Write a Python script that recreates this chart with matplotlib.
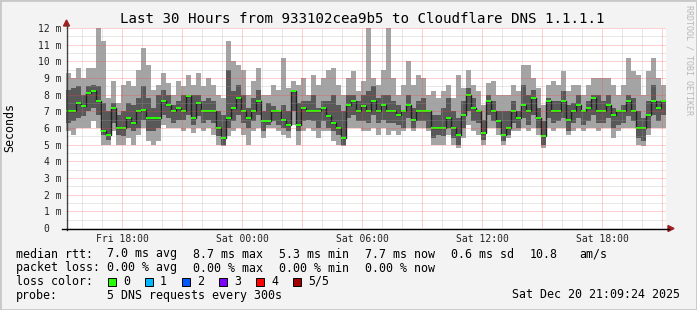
"""SmokePing style latency chart: 30 hours of DNS round trip times."""

import matplotlib

matplotlib.use("Agg", force=True)

import matplotlib.pyplot as plt
import numpy as np
from matplotlib.lines import Line2D
from matplotlib.patches import Polygon, Rectangle

W, H = 697, 310
MONO = "DejaVu Sans Mono"

# time axis: hours since Fri 00:00, one column every 15 minutes
start_hour = 15.18
step_hours = 0.25
span_hours = 30

# five DNS samples per step, sorted (ms)
ping_max = [
	9.3, 9.0, 9.6, 9.0, 9.6, 9.6, 12.0, 11.2, 7.8, 8.8, 7.5, 8.6, 8.8, 8.5, 9.5, 10.8, 9.8, 8.3, 8.6, 9.3,
	8.7, 8.0, 8.8, 8.5, 9.2, 8.6, 9.3, 8.5, 9.0, 8.6, 8.0, 7.8, 11.2, 10.0, 9.8, 9.5, 8.0, 8.8, 9.6, 8.0,
	8.0, 8.6, 8.3, 10.2, 8.4, 8.8, 8.6, 9.0, 8.0, 9.2, 8.6, 9.0, 9.5, 9.6, 8.6, 8.0, 9.0, 9.4, 8.2, 8.8,
	12.0, 9.0, 8.6, 9.5, 12.0, 9.0, 8.0, 8.6, 10.0, 8.6, 9.2, 9.0, 8.0, 8.2, 7.8, 8.2, 8.6, 7.8, 9.2, 8.4,
	9.5, 8.6, 8.2, 7.4, 8.7, 8.8, 8.0, 8.0, 8.0, 8.6, 8.2, 9.8, 9.8, 9.0, 8.4, 7.4, 8.6, 8.8, 8.6, 9.4,
	8.2, 8.6, 8.6, 8.0, 8.6, 9.0, 9.0, 9.0, 9.0, 8.6, 8.0, 8.6, 10.2, 9.4, 9.2, 8.0, 9.4, 10.2, 9.0, 8.6,
]
ping_q4 = [
	8.3, 8.4, 8.5, 8.0, 8.5, 8.6, 8.5, 7.5, 7.0, 7.5, 6.8, 7.0, 7.5, 7.4, 7.8, 8.5, 7.8, 7.2, 8.0, 8.3,
	8.0, 7.4, 7.6, 8.0, 8.0, 8.0, 8.0, 7.6, 7.8, 7.6, 7.0, 6.8, 9.5, 8.2, 8.6, 8.0, 7.2, 7.8, 8.3, 7.0,
	7.5, 7.3, 7.0, 7.4, 7.0, 8.3, 7.5, 7.6, 7.6, 8.0, 7.2, 7.6, 7.6, 8.0, 7.4, 7.0, 8.0, 8.0, 7.6, 8.0,
	8.2, 8.5, 7.8, 8.0, 8.0, 7.6, 7.4, 7.0, 8.0, 7.2, 7.6, 7.8, 7.0, 6.8, 6.8, 7.2, 7.8, 7.0, 6.6, 7.6,
	8.4, 7.8, 7.0, 6.5, 8.0, 7.6, 7.0, 7.0, 7.0, 7.6, 7.0, 8.6, 8.0, 8.3, 7.2, 6.4, 7.8, 7.6, 7.6, 8.2,
	7.4, 7.5, 8.0, 7.0, 7.6, 8.0, 8.0, 7.6, 8.0, 7.2, 7.0, 7.4, 8.0, 7.8, 7.0, 6.6, 7.6, 8.6, 7.6, 7.6,
]
ping_median = [
	7.0, 7.0, 7.5, 7.3, 8.1, 8.2, 7.6, 5.8, 5.6, 7.2, 6.0, 6.0, 6.6, 6.3, 7.0, 7.1, 6.6, 6.6, 6.6, 7.6,
	7.4, 7.0, 7.2, 7.0, 7.9, 6.6, 7.5, 7.0, 7.0, 7.0, 6.0, 5.4, 6.6, 7.2, 7.8, 7.0, 6.6, 7.0, 7.6, 6.4,
	6.4, 7.0, 7.0, 6.5, 6.2, 8.2, 6.2, 7.2, 7.0, 7.0, 7.0, 7.2, 6.7, 6.3, 6.0, 5.4, 7.4, 7.6, 7.0, 7.3,
	7.0, 7.6, 7.0, 7.4, 7.0, 7.0, 6.8, 7.0, 7.4, 6.5, 7.0, 7.0, 7.0, 6.0, 6.0, 6.0, 6.6, 6.0, 5.6, 6.8,
	8.0, 7.2, 7.0, 5.7, 7.6, 7.0, 6.4, 5.6, 6.0, 7.0, 6.6, 7.4, 7.0, 7.8, 6.6, 5.5, 7.6, 7.0, 7.0, 7.6,
	6.5, 7.0, 7.4, 7.0, 7.2, 7.8, 7.0, 7.0, 7.4, 6.8, 7.0, 7.0, 7.6, 7.0, 6.0, 6.0, 6.8, 7.6, 7.2, 7.6,
]
ping_q2 = [
	6.3, 6.4, 6.6, 6.7, 7.0, 7.2, 6.8, 5.6, 5.3, 6.3, 5.6, 5.5, 6.0, 5.8, 6.0, 6.5, 5.8, 5.8, 6.0, 6.8,
	6.6, 6.3, 6.5, 6.5, 6.8, 6.2, 6.7, 6.3, 6.5, 6.3, 5.5, 5.0, 6.0, 6.4, 6.8, 6.3, 6.0, 6.4, 6.8, 5.8,
	6.2, 6.4, 6.2, 6.0, 5.8, 7.0, 5.8, 6.4, 6.5, 6.4, 6.0, 6.4, 6.0, 5.8, 5.6, 5.0, 6.6, 6.8, 6.4, 6.4,
	6.3, 6.8, 6.3, 6.5, 6.3, 6.3, 6.2, 6.0, 6.6, 6.0, 6.4, 6.4, 6.0, 5.4, 5.6, 5.5, 6.0, 5.4, 5.0, 6.0,
	7.0, 6.4, 6.3, 5.3, 6.8, 6.4, 6.0, 5.2, 5.6, 6.3, 6.0, 6.6, 6.2, 6.8, 6.0, 5.0, 6.6, 6.3, 6.4, 6.6,
	5.8, 6.3, 6.6, 6.2, 6.4, 6.8, 6.3, 6.3, 6.6, 6.0, 6.2, 6.3, 6.7, 6.4, 5.4, 5.2, 6.0, 6.8, 6.4, 6.8,
]
ping_min = [
	5.8, 5.6, 6.0, 6.0, 6.0, 6.4, 6.0, 5.0, 5.0, 5.8, 5.0, 5.0, 5.4, 5.0, 5.6, 6.0, 5.2, 5.0, 5.2, 6.2,
	6.0, 6.0, 6.0, 5.8, 6.0, 5.7, 6.0, 5.8, 6.0, 5.6, 5.0, 4.9, 5.5, 5.8, 6.0, 5.6, 5.0, 5.8, 6.0, 5.4,
	6.0, 6.0, 5.8, 5.6, 5.4, 6.2, 5.0, 5.8, 6.0, 5.8, 5.4, 5.8, 5.8, 5.2, 5.0, 4.9, 6.0, 6.0, 6.0, 5.8,
	5.8, 6.0, 5.6, 6.0, 5.6, 5.8, 5.6, 5.8, 6.0, 5.8, 6.0, 6.0, 5.8, 5.0, 5.0, 5.0, 5.6, 5.0, 4.8, 5.4,
	6.2, 5.8, 5.6, 5.0, 6.0, 6.0, 5.6, 5.0, 5.4, 5.8, 5.8, 6.0, 5.8, 6.0, 5.6, 4.8, 6.0, 5.8, 6.0, 6.0,
	5.6, 5.8, 6.0, 5.8, 6.0, 6.0, 5.8, 6.0, 6.0, 5.4, 5.8, 6.0, 6.0, 6.0, 5.0, 4.9, 5.6, 6.0, 6.0, 6.0,
]

x_tick_hours = [18, 24, 30, 36, 42]
x_tick_labels = ["Fri 18:00", "Sat 00:00", "Sat 06:00", "Sat 12:00", "Sat 18:00"]
y_tick_values = list(range(13))
y_tick_labels = ["0  "] + [f"{v} m" for v in range(1, 13)]

title = "Last 30 Hours from 933102cea9b5 to Cloudflare DNS 1.1.1.1"
rtt_stats = ["7.0 ms avg", "8.7 ms max", "5.3 ms min", "7.7 ms now", "0.6 ms sd", "10.8", "am/s"]
loss_stats = ["0.00 % avg", "0.00 % max", "0.00 % min", "0.00 % now"]
loss_labels = ["0", "1", "2", "3", "4", "5/5"]
loss_colors = ["#26ff00", "#00b8ff", "#0059ff", "#7e00ff", "#ff0000", "#a00000"]
probe_text = "5 DNS requests every 300s"
stamp_text = "Sat Dec 20 21:09:24 2025"


def fx(x):
	return x / W


def fy(y):
	return 1 - y / H


fig = plt.figure(figsize=(W / 100, H / 100), dpi=100, facecolor="#f3f3f3")
fig.add_artist(Rectangle((0, 0), 1, 1, transform=fig.transFigure, fill=False,
	edgecolor="#c8c8c8", linewidth=2.0))

ax = fig.add_axes([fx(66), fy(228), 600 / W, 200 / H])
ax.set_facecolor("white")
ax.set_xlim(start_hour, start_hour + span_hours)
ax.set_ylim(0, 12)

edges = start_hour + step_hours * np.arange(len(ping_median) + 1)
med = np.asarray(ping_median)
swidth = 0.06

ax.stairs(ping_max, edges, baseline=ping_min, fill=True, color="#a4a4a4", zorder=1)
ax.stairs(ping_q4, edges, baseline=ping_q2, fill=True, color="#585858", zorder=2)
ax.stairs(med, edges, baseline=None, color="#202020", linewidth=1.0, zorder=3)
ax.stairs(med + swidth, edges, baseline=med - swidth, fill=True, color=loss_colors[0], zorder=4)

# rrdtool style dotted grid drawn over the smoke
dots = (0, (1, 1))
for hour in range(int(np.ceil(start_hour)), int(start_hour + span_hours) + 1):
	if hour % 3 == 0:
		ax.axvline(hour, color="#ff4040", alpha=0.5, linewidth=0.72, linestyle=dots, zorder=5)
	else:
		ax.axvline(hour, color="#a0a0a0", alpha=0.5, linewidth=0.72, linestyle=dots, zorder=5)
for level in np.arange(0.5, 12.01, 0.5):
	if float(level).is_integer():
		ax.axhline(level, color="#ff4040", alpha=0.5, linewidth=0.72, linestyle=dots, zorder=5)
	else:
		ax.axhline(level, color="#a0a0a0", alpha=0.5, linewidth=0.72, linestyle=dots, zorder=5)

for spine in ax.spines.values():
	spine.set_visible(False)
ax.set_xticks(x_tick_hours, x_tick_labels, fontfamily=MONO, fontsize=7)
ax.set_yticks(y_tick_values, y_tick_labels, fontfamily=MONO, fontsize=7)
ax.tick_params(axis="both", length=0, colors="#222222")
ax.tick_params(axis="x", pad=4.5)
ax.tick_params(axis="y", pad=3.5)

# axes with arrow heads
arrow_color = "#a02020"
fig.add_artist(Line2D([fx(66.5), fx(66.5)], [fy(230), fy(25)], transform=fig.transFigure,
	color="#404040", linewidth=1.0))
fig.add_artist(Line2D([fx(62), fx(669)], [fy(228.5), fy(228.5)], transform=fig.transFigure,
	color="#000000", linewidth=1.0))
fig.add_artist(Polygon([(fx(66.5), fy(20)), (fx(63.5), fy(26)), (fx(69.5), fy(26))],
	closed=True, transform=fig.transFigure, color=arrow_color))
fig.add_artist(Polygon([(fx(674), fy(228.5)), (fx(668), fy(225.5)), (fx(668), fy(231.5))],
	closed=True, transform=fig.transFigure, color=arrow_color))

fig.text(fx(362), fy(19), title, fontfamily=MONO, fontsize=10.2, ha="center", va="center")
fig.text(fx(10), fy(127), "Seconds", fontfamily=MONO, fontsize=8.4, rotation=90,
	ha="center", va="center")
fig.text(fx(689), fy(60), "RRDTOOL / TOBI OETIKER", fontfamily=MONO, fontsize=6,
	rotation=270, ha="center", va="center", color="#b8b8b8")

legend_size = 8.4
row_y = [254, 268, 281.5, 295]
fig.text(fx(16), fy(row_y[0]), "median rtt:", fontfamily=MONO, fontsize=legend_size, va="center")
for x, text in zip([107, 193, 279, 365, 451, 530, 579], rtt_stats):
	fig.text(fx(x), fy(row_y[0]), text, fontfamily=MONO, fontsize=legend_size, va="center")

fig.text(fx(16), fy(row_y[1]), "packet loss:", fontfamily=MONO, fontsize=legend_size, va="center")
for x, text in zip([107, 193, 279, 365], loss_stats):
	fig.text(fx(x), fy(row_y[1]), text, fontfamily=MONO, fontsize=legend_size, va="center")

fig.text(fx(16), fy(row_y[2]), "loss color:", fontfamily=MONO, fontsize=legend_size, va="center")
for i, (label, color) in enumerate(zip(loss_labels, loss_colors)):
	box_x = 108 + 37 * i
	fig.add_artist(Rectangle((fx(box_x), fy(row_y[2] + 4)), 8 / W, 8 / H, transform=fig.transFigure,
		facecolor=color, edgecolor="black", linewidth=0.7))
	fig.text(fx(box_x + 15), fy(row_y[2]), label, fontfamily=MONO, fontsize=legend_size, va="center")

fig.text(fx(16), fy(row_y[3]), "probe:", fontfamily=MONO, fontsize=legend_size, va="center")
fig.text(fx(107), fy(row_y[3]), probe_text, fontfamily=MONO, fontsize=legend_size, va="center")
fig.text(fx(680), fy(row_y[3]), stamp_text, fontfamily=MONO, fontsize=legend_size,
	va="center", ha="right")

fig.savefig("out.png", dpi=100, facecolor=fig.get_facecolor())
plt.close(fig)
